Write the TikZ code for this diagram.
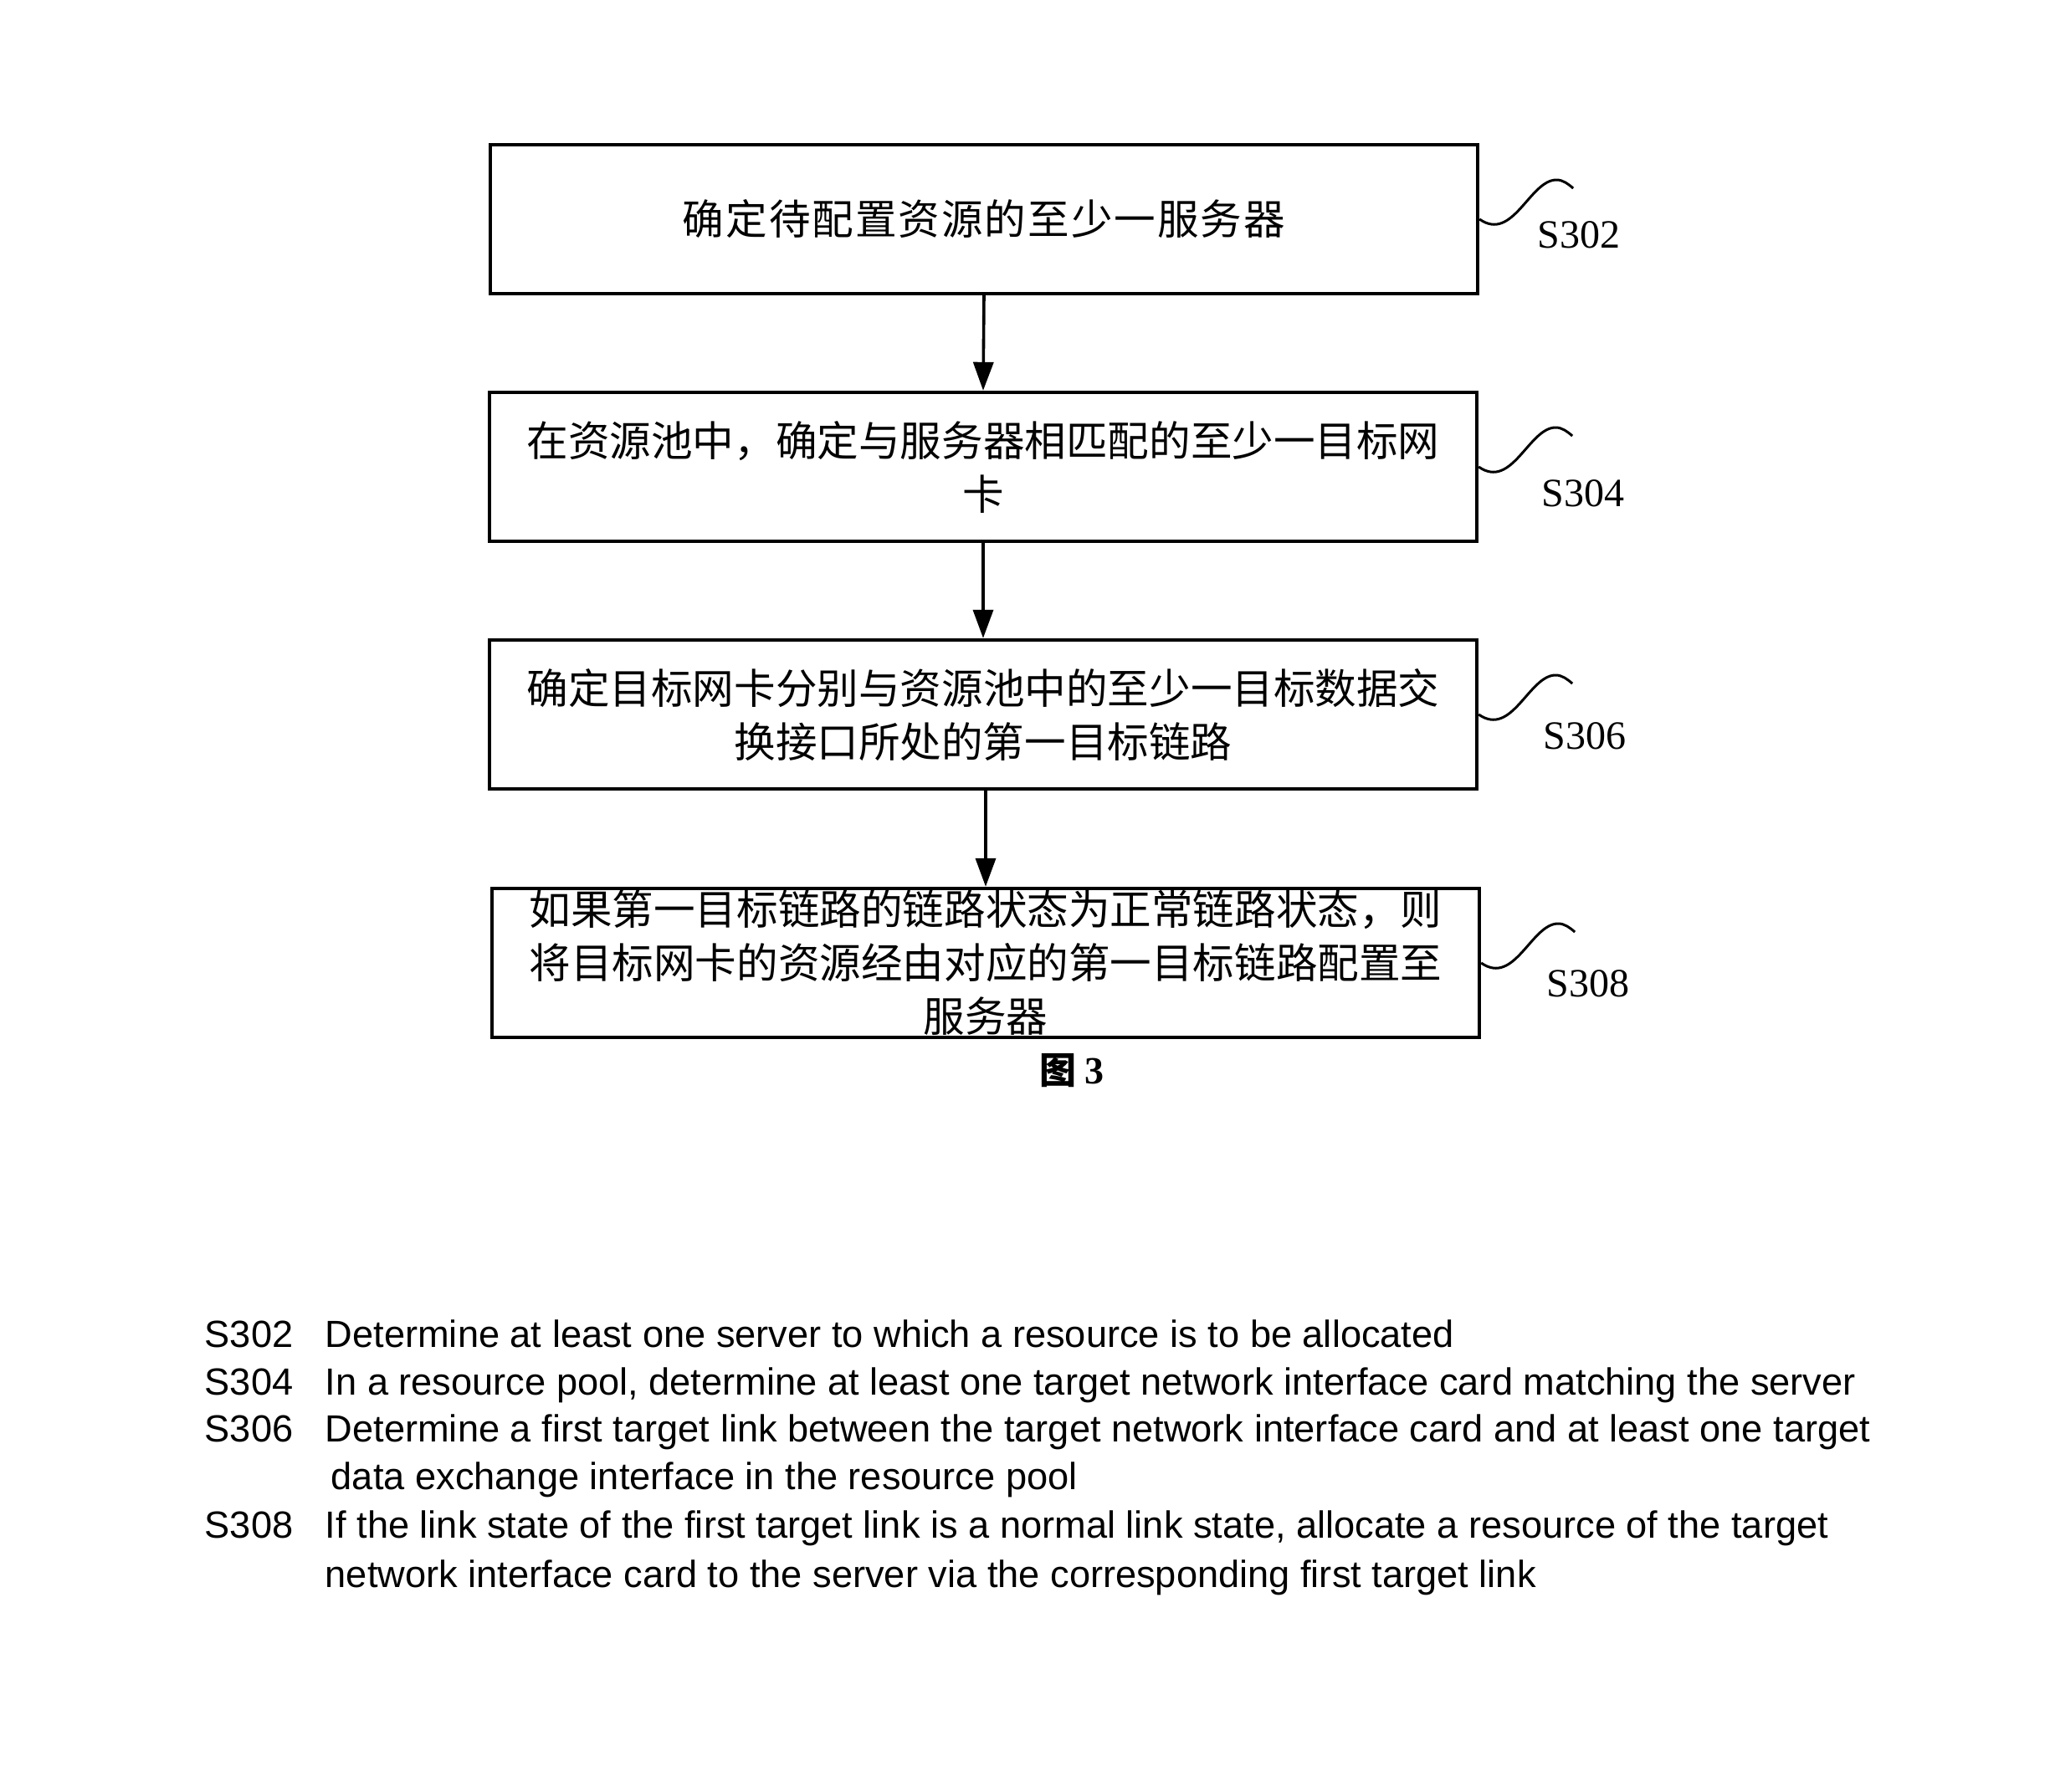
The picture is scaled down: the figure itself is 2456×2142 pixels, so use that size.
\documentclass[tikz,border=0pt]{standalone}
\usepackage{fontspec}
\setmainfont{Liberation Serif}
\newfontfamily\cjk{Noto Sans CJK SC}
\newfontfamily\cjkwide{Noto Sans CJK SC}[LetterSpace=4]
\newfontfamily\arialf{Liberation Sans}
\usetikzlibrary{arrows.meta}
\begin{document}
\begin{tikzpicture}[x=0.25pt,y=-0.25pt,
 stepbox/.style={draw, line width=1.1pt, minimum width=295pt, minimum height=44.5pt, inner sep=0pt, align=center, font=\cjk\fontsize{12.4}{16}\selectfont},
 flow/.style={line width=0.9pt, -{Triangle[length=8.5pt,width=6pt]}},
 squig/.style={line width=0.75pt},
 steplabel/.style={font=\fontsize{12}{14}\selectfont, inner sep=0pt},
 desc/.style={font=\arialf\fontsize{11.3}{13}\selectfont, anchor=base west, inner sep=0pt}]
\useasboundingbox (0,0) rectangle (2456,2142);
\node[stepbox] (b1) at (1176,262) {\cjkwide 确定待配置资源的至少一服务器};
\node[stepbox] (b2) at (1175,558) {在资源池中，确定与服务器相匹配的至少一目标网\\卡};
\node[stepbox] (b3) at (1175,854) {确定目标网卡分别与资源池中的至少一目标数据交\\换接口所处的第一目标链路};
\node[stepbox] (b4) at (1178,1151) {如果第一目标链路的链路状态为正常链路状态，则\\将目标网卡的资源经由对应的第一目标链路配置至\\服务器};
\draw[flow] (b1.south) -- (b2.north);
\draw[flow] (b2.south) -- (b3.north);
\draw[flow] (b3.south -| b4.north) -- (b4.north);
\foreach \b in {b1,b2,b3,b4}{
  \draw[squig] (\b.east) .. controls +(40,28) and +(-32,0) .. ++(92,-47) .. controls +(8,0) and +(-6,-5) .. ++(20,10);
}
\node[steplabel] (l1) at (1887,281) {S302};
\node[steplabel] (l2) at (1892,590) {S304};
\node[steplabel] (l3) at (1894,880) {S306};
\node[steplabel] (l4) at (1898,1176) {S308};
\node[inner sep=0pt] (cap) at (1281,1280) {{\cjk\fontsize{11}{13}\selectfont\bfseries 图}\hspace{2.5pt}{\fontsize{11.5}{13}\selectfont\bfseries 3}};
\node[desc] (s1) at (244,1610) {S302};
\node[desc] (d1) at (388,1610) {Determine at least one server to which a resource is to be allocated};
\node[desc] (s2) at (244,1667) {S304};
\node[desc] (d2) at (388,1667) {In a resource pool, determine at least one target network interface card matching the server};
\node[desc] (s3) at (244,1723) {S306};
\node[desc] (d3) at (388,1723) {Determine a first target link between the target network interface card and at least one target};
\node[desc] (d3b) at (395,1780) {data exchange interface in the resource pool};
\node[desc] (s4) at (244,1838) {S308};
\node[desc] (d4) at (388,1838) {If the link state of the first target link is a normal link state, allocate a resource of the target};
\node[desc] (d4b) at (388,1897) {network interface card to the server via the corresponding first target link};
\end{tikzpicture}
\end{document}
